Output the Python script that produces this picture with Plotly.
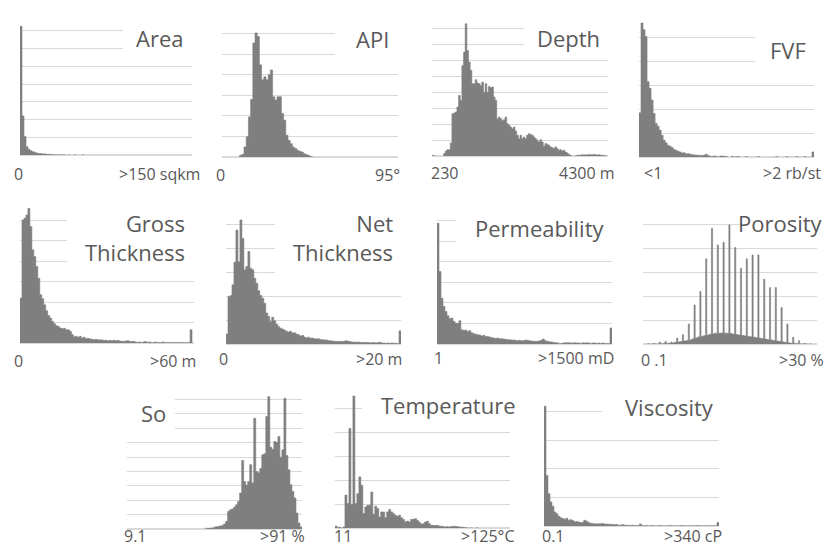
import plotly.graph_objects as go

W, H = 827, 548

# ---------------- data (bin counts, arbitrary units; 100 = one gridline) -------------
area_counts = [725, 220, 104, 47, 32, 24, 19, 15, 11, 9, 8, 6, 6, 4, 4, 3, 3, 2, 2, 2,
               1, 1, 1, 0, 1, 0, 0, 1, 0, 0, 0, 1, 0, 0, 0, 0, 0, 0, 0, 0,
               0, 0, 0, 0, 0, 0, 0, 0, 0, 0, 0, 0, 0, 0, 0, 0, 0, 0, 0, 0,
               0, 0, 0, 0, 0, 0, 0, 0, 0, 0, 0, 0, 0, 0, 0, 0, 0, 0, 0, 0,
               0, 0, 0, 0, 0, 0]

api_counts = [0, 0, 0, 0, 0, 0, 0, 0, 8, 13, 49, 98, 195, 280, 554, 603, 586, 448, 375, 390,
              375, 400, 423, 293, 277, 293, 293, 212, 179, 106, 81, 65, 49, 41, 33, 28, 24, 16, 11, 7,
              3, 0, 0, 0, 0, 0, 0, 0, 0, 0, 0, 0, 0, 0, 0, 0, 0, 0, 0, 0,
              0, 0, 0, 0, 0, 0, 0, 0, 0, 0, 0, 0, 0, 0, 0, 0, 0, 0, 0, 0]

depth_counts = [4, 2, 0, 0, 0, 0, 0, 15, 31, 40, 40, 82, 266, 270, 277, 308, 381, 350, 570, 654,
                832, 664, 591, 539, 455, 455, 480, 459, 455, 444, 465, 402, 455, 402, 438, 430, 434, 371, 350, 235,
                245, 235, 224, 228, 245, 203, 193, 182, 172, 182, 157, 130, 109, 130, 109, 119, 109, 130, 140, 136,
                130, 119, 109, 98, 88, 103, 88, 61, 78, 73, 67, 57, 52, 46, 57, 46, 36, 40, 31, 36,
                25, 19, 10, 4, 0, 0, 2, 4, 6, 4, 8, 6, 8, 6, 10, 8, 8, 10, 8, 6,
                8, 6, 4, 4, 2, 0]

fvf_counts = [184, 558, 530, 502, 314, 286, 237, 181, 140, 128, 112, 91, 70, 59, 49, 45, 39, 31, 28, 24,
              21, 17, 18, 13, 14, 11, 10, 8, 8, 7, 7, 6, 8, 11, 6, 3, 3, 4, 3, 0,
              4, 4, 3, 2, 0, 0, 3, 0, 2, 2, 0, 0, 0, 2, 0, 0, 0, 0, 0, 2,
              0, 0, 0, 0, 0, 0, 0, 0, 2, 0, 0, 0, 0, 2, 0, 0, 0, 0, 2, 0,
              0, 0, 2, 0, 0, 0, 21]

gross_counts = [220, 602, 611, 627, 659, 570, 456, 423, 374, 317, 236, 217, 187, 158, 135, 122, 106, 94, 85, 81,
                73, 70, 72, 65, 65, 57, 41, 31, 33, 28, 33, 24, 28, 21, 23, 20, 18, 16, 18, 15,
                16, 15, 13, 13, 11, 13, 11, 13, 11, 13, 10, 8, 8, 10, 11, 8, 7, 8, 5, 3,
                5, 3, 5, 7, 3, 5, 3, 2, 5, 3, 2, 3, 5, 2, 3, 2, 2, 3, 2, 3,
                2, 2, 3, 2, 2, 3, 65, 0]

net_counts = [42, 198, 202, 247, 341, 475, 343, 517, 440, 309, 323, 385, 316, 309, 274, 253, 222, 202, 191, 170,
              129, 115, 94, 111, 97, 83, 73, 66, 62, 58, 53, 50, 53, 46, 47, 42, 39, 33, 36, 29,
              26, 28, 24, 25, 22, 21, 22, 19, 18, 17, 17, 14, 14, 12, 11, 11, 10, 11, 10, 11,
              14, 11, 10, 8, 8, 7, 8, 7, 6, 7, 6, 6, 4, 6, 6, 4, 6, 7, 4, 4,
              3, 4, 3, 4, 3, 3, 1, 55]

perm_counts = [587, 352, 223, 183, 158, 137, 123, 126, 110, 102, 100, 113, 69, 66, 68, 61, 65, 55, 50, 48,
               45, 44, 39, 42, 37, 36, 34, 31, 29, 27, 29, 26, 26, 24, 23, 21, 21, 19, 19, 18,
               16, 18, 16, 16, 19, 18, 16, 15, 13, 13, 13, 15, 18, 24, 16, 13, 11, 10, 8, 6,
               6, 3, 2, 5, 6, 6, 6, 5, 5, 6, 5, 5, 3, 6, 5, 6, 5, 3, 5, 5,
               3, 5, 3, 5, 3, 3, 2, 78]

porosity_counts = [0, 0, 0, 0, 2,    0, 0, 1, 0, 3,    1, 0, 1, 1, 8,    2, 1, 2, 3, 11,
                   3, 2, 4, 3, 8,    4, 5, 6, 8, 25,   7, 9, 10, 11, 39,  12, 13, 14, 15, 83,
                   16, 18, 20, 22, 163,  24, 26, 28, 30, 219,  30, 32, 34, 35, 355,  36, 38, 40, 41, 482,
                   42, 43, 45, 44, 413,  44, 46, 45, 46, 424,  45, 46, 44, 45, 496,  44, 43, 42, 41, 402,
                   40, 39, 38, 37, 316,  36, 35, 34, 33, 355,  32, 31, 30, 30, 371,  29, 28, 27, 26, 371,
                   25, 24, 23, 22, 270,  21, 20, 19, 18, 235,  17, 16, 15, 14, 235,  13, 12, 11, 10, 152,
                   9, 8, 7, 6, 83,   5, 4, 4, 3, 28,   3, 2, 2, 1, 14,   1, 1, 0, 1, 3,
                   0, 1, 0, 0, 1,    0, 0, 0, 0, 0]

so_counts = [0, 0, 0, 0, 0, 0, 0, 0, 0, 0, 0, 0, 0, 0, 0, 0, 0, 0, 0, 0,
             0, 0, 0, 0, 0, 0, 0, 0, 0, 0, 0, 0, 0, 0, 0, 0, 0, 0, 0, 5,
             5, 7, 7, 12, 16, 18, 21, 25, 35, 53, 122, 134, 139, 152, 169, 192, 250, 476, 330, 305,
             330, 446, 320, 769, 400, 390, 420, 515, 522, 781, 919, 568, 554, 608, 601, 642, 499, 550, 908, 510,
             411, 307, 261, 215, 111, 42, 14]

temp_counts = [8, 3, 3, 0, 4, 137, 102, 415, 98, 550, 102, 143, 213, 178, 60, 88, 95, 95, 150, 57,
               91, 81, 46, 67, 67, 43, 67, 77, 67, 60, 53, 49, 53, 43, 35, 25, 29, 25, 36, 36,
               39, 32, 24, 17, 18, 25, 28, 18, 11, 11, 10, 11, 8, 7, 6, 4, 6, 4, 6, 7,
               7, 6, 4, 4, 3, 2, 1, 0, 1, 0, 0, 1, 0, 0, 0, 0, 0, 0, 0, 0,
               0, 0, 0, 0, 0, 0, 0, 0]

visc_counts = [419, 177, 113, 84, 69, 49, 43, 34, 29, 26, 24, 27, 20, 22, 19, 15, 16, 14, 12, 13,
               20, 17, 12, 10, 9, 8, 7, 8, 8, 9, 7, 7, 6, 6, 5, 5, 5, 3, 3, 5,
               3, 3, 2, 2, 3, 2, 2, 2, 7, 2, 1, 2, 1, 1, 2, 1, 1, 1, 2, 1,
               1, 1, 1, 2, 1, 1, 1, 1, 1, 2, 1, 1, 1, 1, 1, 1, 1, 2, 1, 1,
               1, 1, 1, 1, 1, 1, 1, 12]

titles = ["Area", "API", "Depth", "FVF", "Gross<br>Thickness", "Net<br>Thickness",
          "Permeability", "Porosity", "So", "Temperature", "Viscosity"]
left_labels = ["0", "0", "230", "<1", "0", "0", "1", "0 .1", "9.1", "11", "0.1"]
right_labels = [">150 sqkm", "95°", "4300 m", ">2 rb/st", ">60 m", ">20 m", ">1500 mD",
                ">30 %", ">91 %", ">125°C", ">340 cP"]
grid_steps = [8, 7, 9, 6, 7, 6, 7, 6, 10, 6, 5]
series = [area_counts, api_counts, depth_counts, fvf_counts, gross_counts, net_counts,
          perm_counts, porosity_counts, so_counts, temp_counts, visc_counts]

# ---------------- layout geometry (pixels) ----------------
# plot box: x0, x1, y_top, y_base
boxes = [(20, 192, 13, 155), (222, 398, 13, 157), (432, 608, 13, 156), (639, 814, 13, 157),
         (20, 194, 200, 343), (226, 401, 200, 344), (437, 612, 200, 344), (643, 817, 200, 344),
         (127, 302, 385, 529), (335, 510, 384, 528), (544, 719, 383, 526)]
# title: right edge x, centre y
title_pos = [(185, 38), (391, 39), (602, 38), (808, 50), (187, 237), (395, 238),
             (606, 228), (825, 223), (168, 413), (518, 405), (716, 407)]
# white box hiding gridlines behind title: x0, x1, y0, y1
masks = [(123, 193, 22, 58), (335, 399, 23, 64), (524, 609, 20, 52), (755, 815, 25, 73),
         (67, 195, 210, 272), (275, 402, 212, 284), (456, 613, 210, 252), (742, 818, 212, 236),
         (126, 175, 392, 436), (362, 511, 396, 420), (602, 720, 398, 426)]
label_lx = [13, 215, 430, 643, 13, 218, 433, 640, 123, 333, 541]
label_rx = [201, 401, 616, 822, 197, 403, 615, 825, 306, 516, 723]
label_y = [174, 175, 173, 173, 361, 359, 358, 360, 536, 536, 536]

FONT = "Open Sans"
TXT = "#595959"
BAR = "#7f7f7f"
GRID = "#d9d9d9"

fig = go.Figure()
layout = dict(width=W, height=H, margin=dict(l=0, r=0, t=0, b=0),
              paper_bgcolor="white", plot_bgcolor="white", showlegend=False,
              font=dict(family=FONT, color=TXT))
annotations = []
shapes = []


def px(x):
    return x / W


def py(y):
    return 1 - y / H


for i, vals in enumerate(series):
    k = i + 1
    sfx = "" if k == 1 else str(k)
    x0, x1, yt, yb = boxes[i]
    n = len(vals)
    # histogram drawn as a solid step area: bin i spans [i, i+1)
    fig.add_trace(go.Scatter(x=list(range(n + 1)), y=list(vals) + [vals[-1]],
                             xaxis="x" + sfx, yaxis="y" + sfx, mode="lines",
                             line=dict(shape="hv", width=0.6, color=BAR),
                             fill="tozeroy", fillcolor=BAR, hoverinfo="skip"))
    layout["xaxis" + sfx] = dict(domain=[px(x0), px(x1)], range=[0, n],
                                 visible=False, anchor="y" + sfx, fixedrange=True)
    layout["yaxis" + sfx] = dict(domain=[py(yb), py(yt)], range=[0, grid_steps[i] * 100 + 0.01],
                                 dtick=100, tick0=0, showticklabels=False, ticks="",
                                 showgrid=True, gridcolor=GRID, gridwidth=1,
                                 zeroline=True, zerolinecolor=GRID, zerolinewidth=1,
                                 showline=False, anchor="x" + sfx, fixedrange=True)
    mx0, mx1, my0, my1 = masks[i]
    shapes.append(dict(type="rect", xref="paper", yref="paper", x0=px(mx0), x1=px(mx1),
                       y0=py(my1), y1=py(my0), fillcolor="white", line=dict(width=0),
                       layer="above"))
    tx, ty = title_pos[i]
    annotations.append(dict(text=titles[i], xref="paper", yref="paper", x=px(tx), y=py(ty),
                            xanchor="right", yanchor="middle", align="right", showarrow=False,
                            font=dict(size=22, family=FONT, color=TXT)))
    annotations.append(dict(text=left_labels[i], xref="paper", yref="paper", x=px(label_lx[i]),
                            y=py(label_y[i]), xanchor="left", yanchor="middle", showarrow=False,
                            borderpad=0, font=dict(size=16, family=FONT, color=TXT)))
    annotations.append(dict(text=right_labels[i], xref="paper", yref="paper", x=px(label_rx[i]),
                            y=py(label_y[i]), xanchor="right", yanchor="middle", showarrow=False,
                            borderpad=0, font=dict(size=16, family=FONT, color=TXT)))

layout["annotations"] = annotations
layout["shapes"] = shapes
fig.update_layout(**layout)
fig.write_html("out.html", config={"displayModeBar": False})
